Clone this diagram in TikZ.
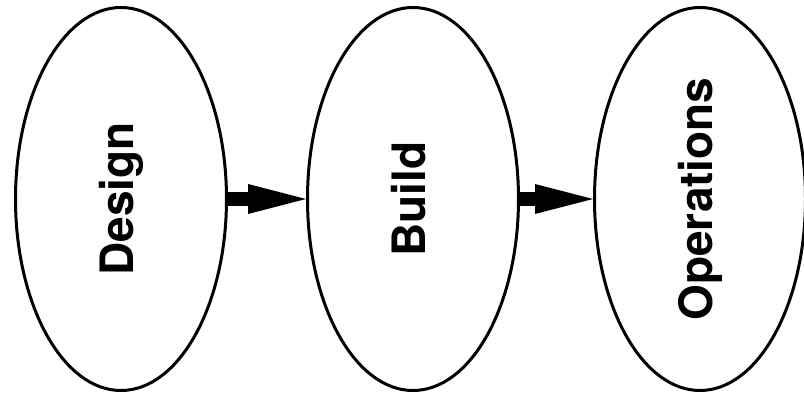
\documentclass[tikz,border=0pt]{standalone}
\usepackage{fontspec}
\setsansfont{TeX Gyre Heros}
\usepackage{graphicx}
\usepackage{tikz}
\usetikzlibrary{shapes, arrows.meta, positioning}
\newcommand{\phasetext}[1]{\rotatebox{90}{\vphantom{Dg}#1}}

\begin{document}
\begin{tikzpicture}[x=1pt, y=1pt,
  phase/.style={draw, ellipse, line width=3pt, minimum width=211pt, minimum height=383pt, inner sep=0pt, font=\sffamily\bfseries\fontsize{46}{50}\selectfont},
  flow/.style={line width=14pt, -{Triangle[length=58pt, width=30pt, line width=0pt]}}
]
  \useasboundingbox (0,0) rectangle (804,399);
  \node[phase] (design) at (121, 200) {\phasetext{Design}};
  \node[phase] (build) at (413, 200) {\phasetext{Build}};
  \node[phase] (ops) at (700, 200) {\phasetext{Operations}};
  \draw[flow] (design.east) -- (build.west);
  \draw[flow] (build.east) -- (ops.west);
\end{tikzpicture}
\end{document}
